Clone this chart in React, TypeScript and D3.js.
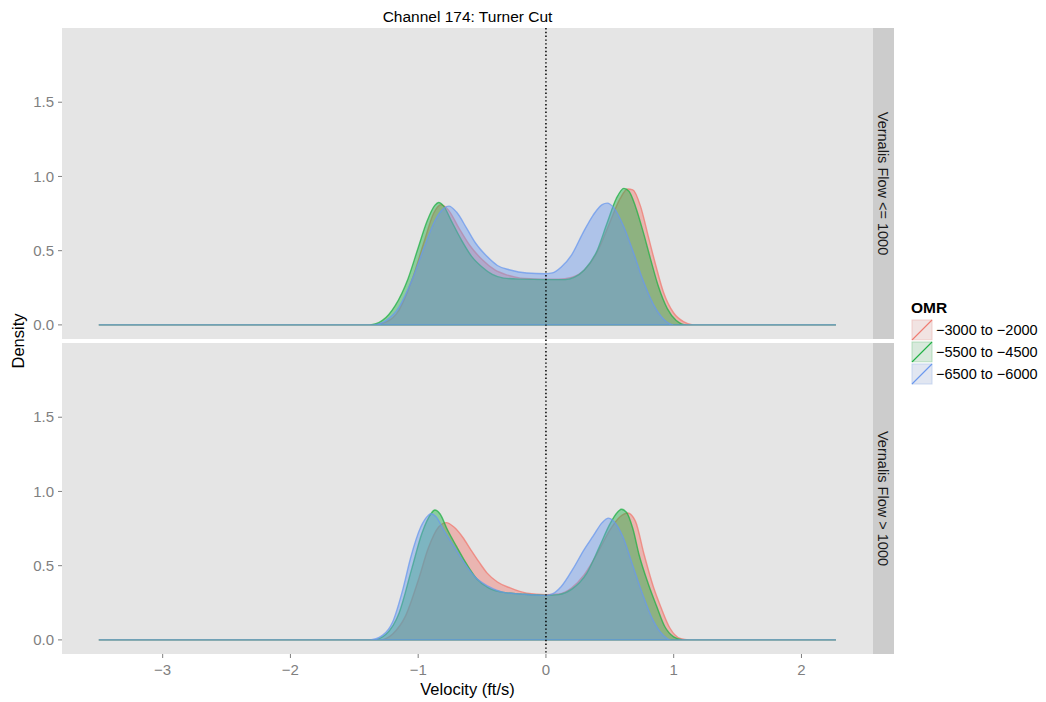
import React from "react";
import * as d3 from "d3";

const TITLE = "Channel 174: Turner Cut";
const FACETS = ["Vernalis Flow <= 1000", "Vernalis Flow > 1000"];
const SERIES = ["\u22123000 to \u22122000", "\u22125500 to \u22124500", "\u22126500 to \u22126000"];
const COLORS = ["#F07A70", "#1FB044", "#6A98EE"];
const X_TICKS = [-3, -2, -1, 0, 1, 2];
const Y_TICKS = [0, 0.5, 1.0, 1.5];

// Facet 1: Vernalis Flow <= 1000
const top_red: [number, number][] = [
  [-3.5, 0], [-1.35, 0], [-1.25, 0.02], [-1.15, 0.1], [-1.05, 0.3], [-0.95, 0.57], [-0.88, 0.75],
  [-0.82, 0.81], [-0.76, 0.77], [-0.68, 0.65], [-0.6, 0.54], [-0.5, 0.44], [-0.4, 0.37],
  [-0.3, 0.335], [-0.2, 0.315], [-0.1, 0.31], [0, 0.308], [0.1, 0.308], [0.2, 0.32], [0.3, 0.37],
  [0.4, 0.49], [0.5, 0.69], [0.58, 0.85], [0.64, 0.915], [0.68, 0.91], [0.74, 0.8], [0.8, 0.6],
  [0.86, 0.4], [0.92, 0.22], [1.0, 0.08], [1.08, 0.02], [1.15, 0], [2.27, 0],
];
const top_green: [number, number][] = [
  [-3.5, 0], [-1.38, 0], [-1.28, 0.03], [-1.18, 0.13], [-1.08, 0.31], [-1.0, 0.52], [-0.93, 0.7],
  [-0.87, 0.805], [-0.84, 0.825], [-0.8, 0.8], [-0.74, 0.7], [-0.66, 0.57], [-0.58, 0.46],
  [-0.5, 0.39], [-0.42, 0.34], [-0.33, 0.315], [-0.2, 0.308], [0, 0.305], [0.15, 0.305],
  [0.22, 0.32], [0.3, 0.37], [0.4, 0.5], [0.48, 0.69], [0.55, 0.85], [0.61, 0.92], [0.65, 0.9],
  [0.7, 0.8], [0.76, 0.63], [0.82, 0.44], [0.88, 0.26], [0.95, 0.11], [1.02, 0.03], [1.1, 0],
  [2.27, 0],
];
const top_blue: [number, number][] = [
  [-3.5, 0], [-1.35, 0], [-1.25, 0.03], [-1.15, 0.12], [-1.05, 0.3], [-0.95, 0.53], [-0.87, 0.7],
  [-0.8, 0.785], [-0.76, 0.8], [-0.7, 0.76], [-0.62, 0.65], [-0.55, 0.55], [-0.46, 0.46],
  [-0.38, 0.4], [-0.28, 0.37], [-0.15, 0.35], [0, 0.345], [0.05, 0.35], [0.12, 0.39], [0.2, 0.47],
  [0.29, 0.62], [0.37, 0.74], [0.44, 0.81], [0.48, 0.82], [0.53, 0.79], [0.6, 0.68], [0.68, 0.5],
  [0.76, 0.3], [0.84, 0.14], [0.92, 0.04], [1.0, 0], [2.27, 0],
];

// Facet 2: Vernalis Flow > 1000
const bot_red: [number, number][] = [
  [-3.5, 0], [-1.3, 0], [-1.2, 0.04], [-1.1, 0.16], [-1.0, 0.4], [-0.92, 0.62], [-0.84, 0.76],
  [-0.78, 0.79], [-0.72, 0.76], [-0.65, 0.69], [-0.59, 0.61], [-0.52, 0.52], [-0.46, 0.45],
  [-0.38, 0.39], [-0.28, 0.35], [-0.15, 0.315], [0, 0.305], [0.1, 0.31], [0.2, 0.35], [0.3, 0.44],
  [0.4, 0.58], [0.5, 0.74], [0.58, 0.83], [0.64, 0.855], [0.7, 0.8], [0.77, 0.57], [0.84, 0.36],
  [0.9, 0.22], [0.97, 0.08], [1.05, 0.01], [1.12, 0], [2.27, 0],
];
const bot_green: [number, number][] = [
  [-3.5, 0], [-1.35, 0], [-1.25, 0.04], [-1.15, 0.18], [-1.05, 0.48], [-0.97, 0.72], [-0.9, 0.85],
  [-0.87, 0.875], [-0.83, 0.85], [-0.77, 0.74], [-0.7, 0.63], [-0.62, 0.51], [-0.54, 0.41],
  [-0.45, 0.35], [-0.33, 0.32], [-0.2, 0.31], [0, 0.3], [0.1, 0.305], [0.2, 0.34], [0.32, 0.45],
  [0.42, 0.63], [0.5, 0.78], [0.56, 0.86], [0.59, 0.88], [0.63, 0.86], [0.68, 0.75], [0.73, 0.57],
  [0.8, 0.38], [0.865, 0.23], [0.93, 0.09], [1.0, 0.02], [1.07, 0], [2.27, 0],
];
const bot_blue: [number, number][] = [
  [-3.5, 0], [-1.38, 0], [-1.28, 0.03], [-1.2, 0.12], [-1.12, 0.34], [-1.06, 0.55], [-0.98, 0.76],
  [-0.92, 0.84], [-0.9, 0.85], [-0.86, 0.83], [-0.8, 0.74], [-0.72, 0.63], [-0.64, 0.52],
  [-0.55, 0.42], [-0.45, 0.36], [-0.33, 0.32], [-0.2, 0.31], [0, 0.3], [0.05, 0.31], [0.12, 0.36],
  [0.21, 0.476], [0.3, 0.61], [0.37, 0.7], [0.44, 0.79], [0.49, 0.82], [0.53, 0.8], [0.6, 0.7],
  [0.68, 0.5], [0.76, 0.3], [0.84, 0.13], [0.92, 0.03], [0.98, 0], [2.27, 0],
];

const PANEL_DATA = [
  [top_red, top_green, top_blue],
  [bot_red, bot_green, bot_blue],
];

const FONT = "'Liberation Sans', Arial, Helvetica, sans-serif";

export default function App() {
  const W = 1046, H = 702;
  const left = 62, right = 873;
  const stripW = 21;
  const panels = [
    { top: 28, bottom: 339 },
    { top: 343, bottom: 654 },
  ];
  const x = d3.scaleLinear().domain([-3.788, 2.56]).range([left, right]);
  const alpha = 0.45;

  return (
    <svg width={W} height={H} style={{ position: "absolute", left: 0, top: 0 }} fontFamily={FONT}>
      <rect x={0} y={0} width={W} height={H} fill="#ffffff" />
      <text x={(left + right) / 2} y={22} textAnchor="middle" fontSize={15.5} fill="#000">{TITLE}</text>
      {panels.map((p, pi) => {
        const y = d3.scaleLinear().domain([-0.095, 2.0]).range([p.bottom, p.top]);
        const area = d3.area<[number, number]>()
          .x(d => x(d[0]))
          .y0(y(0))
          .y1(d => y(d[1]))
          .curve(d3.curveMonotoneX);
        return (
          <g key={pi}>
            <rect x={left} y={p.top} width={right - left} height={p.bottom - p.top} fill="#E5E5E5" />
            {PANEL_DATA[pi].map((s, si) => (
              <path key={si} d={area(s) || ""} fill={COLORS[si]} fillOpacity={alpha}
                stroke={COLORS[si]} strokeWidth={1.4} strokeOpacity={0.75} />
            ))}
            {Y_TICKS.map(t => (
              <g key={t}>
                <line x1={left - 4} x2={left} y1={y(t)} y2={y(t)} stroke="#7F7F7F" strokeWidth={1} />
                <text x={left - 8} y={y(t)} dy="0.35em" textAnchor="end" fontSize={15} fill="#7F7F7F">{t.toFixed(1)}</text>
              </g>
            ))}
            <rect x={right} y={p.top} width={stripW} height={p.bottom - p.top} fill="#CCCCCC" />
            <text transform={`translate(${right + stripW / 2},${(p.top + p.bottom) / 2}) rotate(90)`}
              textAnchor="middle" dy="0.35em" fontSize={14.5} fill="#1a1a1a">{FACETS[pi]}</text>
          </g>
        );
      })}
      <line x1={x(0)} x2={x(0)} y1={panels[0].top} y2={panels[1].bottom} stroke="#000" strokeWidth={1.5} strokeDasharray="1.4,2.4" />
      {X_TICKS.map(t => (
        <g key={t}>
          <line x1={x(t)} x2={x(t)} y1={panels[1].bottom} y2={panels[1].bottom + 4} stroke="#7F7F7F" />
          <text x={x(t)} y={panels[1].bottom + 21} textAnchor="middle" fontSize={15} fill="#7F7F7F">{t < 0 ? "\u2212" + Math.abs(t) : String(t)}</text>
        </g>
      ))}
      <text x={(left + right) / 2} y={695} textAnchor="middle" fontSize={16.5} fill="#000">Velocity (ft/s)</text>
      <text transform={`translate(24,${(panels[0].top + panels[1].bottom) / 2}) rotate(-90)`} textAnchor="middle" fontSize={16.5} fill="#000">Density</text>
      <g>
        <text x={911} y={313} fontSize={15.5} fontWeight="bold" fill="#000">OMR</text>
        {SERIES.map((s, i) => {
          const ky = 319 + i * 22;
          return (
            <g key={i}>
              <rect x={911} y={ky} width={22} height={22} fill="#F2F2F2" stroke="#ffffff" />
              <rect x={912} y={ky + 1} width={20} height={20} fill={COLORS[i]} fillOpacity={0.12} stroke={COLORS[i]} strokeOpacity={0.25} />
              <line x1={912} y1={ky + 21} x2={932} y2={ky + 1} stroke={COLORS[i]} strokeWidth={1.1} />
              <text x={936} y={ky + 11} dy="0.35em" fontSize={14.5} fill="#000">{s}</text>
            </g>
          );
        })}
      </g>
    </svg>
  );
}
